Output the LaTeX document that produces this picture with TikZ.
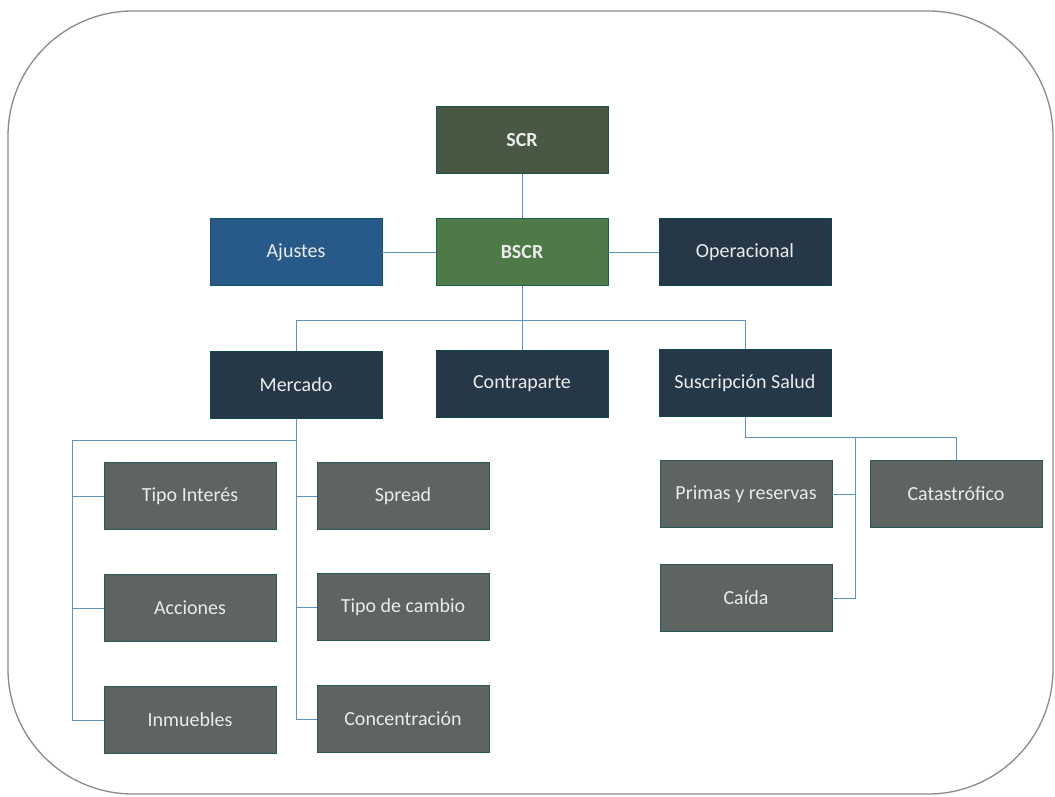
\documentclass[tikz,border=0pt]{standalone}
\usepackage{fontspec}
\setmainfont{Carlito}
\begin{document}
\begin{tikzpicture}[x=1pt,y=-1pt,
  box/.style={draw=#1!70!cyan!60!black,line width=0.5pt,fill=#1,text=white!92!black,minimum width=172pt,minimum height=67pt,inner sep=0pt,font=\fontsize{20}{24}\selectfont},
  conn/.style={draw=lineblue,line width=0.9pt}]
\definecolor{scrc}{HTML}{485843}
\definecolor{bscrc}{HTML}{4D7A46}
\definecolor{ajc}{HTML}{275A89}
\definecolor{navyc}{HTML}{263847}
\definecolor{grayc}{HTML}{5E6462}
\definecolor{lineblue}{HTML}{5B93C9}
\definecolor{framec}{HTML}{8A8A8A}
\useasboundingbox (0,0) rectangle (1055,796);
\draw[framec,line width=1.3pt,rounded corners=125pt] (8,11) rectangle (1053,794);

\node[box=scrc,font=\fontsize{20}{24}\selectfont\bfseries] (scr) at (522,140) {SCR};
\node[box=bscrc,font=\fontsize{20}{24}\selectfont\bfseries] (bscr) at (522,252) {BSCR};
\node[box=ajc] (aj) at (296,252) {Ajustes};
\node[box=navyc] (op) at (745,252) {Operacional};
\node[box=navyc] (mer) at (296,385) {Mercado};
\node[box=navyc] (con) at (522,384) {Contraparte};
\node[box=navyc] (sus) at (745,383) {Suscripción Salud};

\node[box=grayc] (ti) at (190,496) {Tipo Interés};
\node[box=grayc] (ac) at (190,608) {Acciones};
\node[box=grayc] (in) at (190,720) {Inmuebles};
\node[box=grayc] (sp) at (403,496) {Spread};
\node[box=grayc] (tc) at (403,607) {Tipo de cambio};
\node[box=grayc] (cc) at (403,719) {Concentración};

\node[box=grayc] (pr) at (746,494) {Primas y reservas};
\node[box=grayc] (ca) at (746,598) {Caída};
\node[box=grayc] (cat) at (956,494) {Catastrófico};

\coordinate (bsj) at (522,320);
\coordinate (mj) at (296,440);
\coordinate (ml) at (72,440);
\coordinate (sj) at (745,437);
\coordinate (sm) at (855,437);

\draw[conn] (scr.south) -- (bscr.north);
\draw[conn] (aj.east) -- (bscr.west);
\draw[conn] (bscr.east) -- (op.west);
\draw[conn] (bscr.south) -- (bsj);
\draw[conn] (bsj) -| (mer.north);
\draw[conn] (bsj) -| (sus.north);
\draw[conn] (bsj) -- (con.north);

\draw[conn] (mer.south) -- (mj);
\draw[conn] (mj) -- (ml);
\draw[conn] (ml) |- (ti.west);
\draw[conn] (ml) |- (ac.west);
\draw[conn] (ml) |- (in.west);
\draw[conn] (mj) |- (sp.west);
\draw[conn] (mj) |- (tc.west);
\draw[conn] (mj) |- (cc.west);

\draw[conn] (sus.south) -- (sj);
\draw[conn] (sj) -| (cat.north);
\draw[conn] (sm) |- (pr.east);
\draw[conn] (sm) |- (ca.east);
\end{tikzpicture}
\end{document}
